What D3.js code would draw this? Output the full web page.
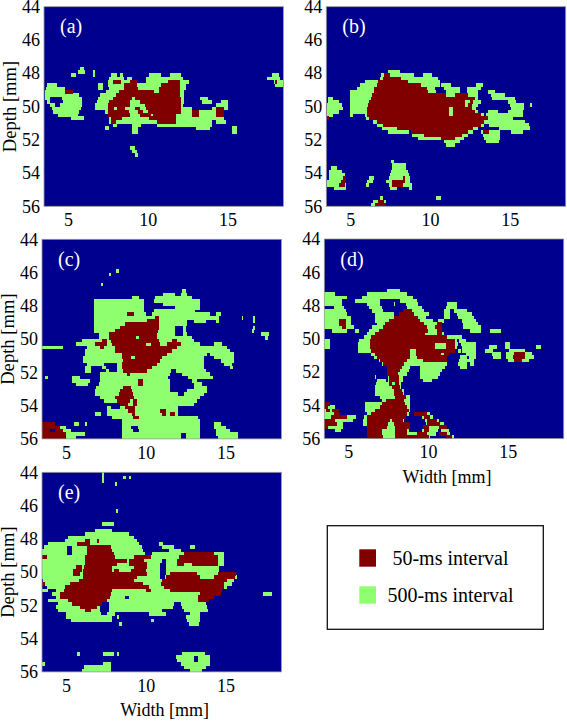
<!DOCTYPE html>
<html>
<head>
<meta charset="utf-8">
<script src="https://d3js.org/d3.v7.min.js"></script>
<style>
  body { margin: 0; background: #fff; }
  text { font-family: "Liberation Serif", serif; fill: #000; }
</style>
</head>
<body>
<script>
// every row is [depth, x0, x1, x0, x1, ...] in mm, one row is rowStep mm tall
var rowStep = 0.2
var widthDomain = [3.5, 18.5]
var depthDomain = [44, 56]
var widthTicks = [5, 10, 15]
var depthTicks = [44, 46, 48, 50, 52, 54, 56]
var legendLabels = ['50-ms interval', '500-ms interval']

var a500 = [
  [47.6,5.75,6.0],[47.8,5.6,6.1,6.55,6.7],
  [48.0,5.2,5.5,6.55,6.7,7.7,8.1,8.25,8.45,10.1,10.8,11.4,12.1,17.8,18.2],
  [48.2,7.6,8.5,8.7,9.0,9.9,12.2,17.5,18.3],
  [48.4,7.5,8.9,9.9,12.6,17.9,18.5],
  [48.6,3.7,4.3,6.9,7.2,7.5,12.4,18.0,18.5],
  [48.8,3.6,4.8,6.9,7.2,7.6,12.4],
  [49.0,3.55,5.3,7.4,12.3],
  [49.2,3.55,5.7,7.0,12.3],
  [49.4,3.55,3.9,4.6,5.85,6.9,12.3,13.3,13.8],
  [49.6,3.7,3.85,4.7,5.85,6.8,12.3,13.4,14.0,14.6,15.0],
  [49.8,3.9,4.2,4.5,5.85,6.7,12.2,14.3,15.0],
  [50.0,4.0,5.8,6.7,12.8,14.0,15.0],
  [50.2,4.05,5.7,7.3,13.1,13.2,14.8],
  [50.4,4.4,5.6,7.6,14.8],
  [50.6,5.2,6.0,7.6,14.8],
  [50.8,7.6,14.0,14.3,14.9],
  [51.0,7.8,8.05,9.0,9.6,10.6,14.0],
  [51.2,7.3,7.6,9.0,9.4,13.0,13.9,15.3,15.6],
  [51.4,9.0,9.4,15.3,15.6],
  [52.4,8.9,9.2],[52.6,9.0,9.3],[52.8,9.2,9.4]
]
var a50 = [
  [49.0,4.8,5.3],[48.4,7.85,8.3,8.9,9.3,11.3,12.0,18.0,18.1],
  [48.6,8.5,9.3,10.8,12.0],[48.8,8.5,9.4,10.7,12.0],
  [49.0,8.2,10.4,10.7,12.0],[49.2,8.0,12.0],
  [49.4,7.8,9.0,9.2,12.1],[49.6,7.6,8.9,9.5,12.1],
  [49.8,7.5,8.9,9.8,12.1],[50.0,7.5,7.9,8.1,8.6,9.2,9.5,9.9,12.1,14.3,14.8],
  [50.2,7.5,8.8,9.4,9.7,10.0,12.1,12.8,13.2,14.3,14.8],
  [50.4,7.5,8.9,9.5,10.2,10.3,11.8,12.8,13.2,14.3,14.8],
  [50.6,7.7,8.4,10.1,11.8],[50.8,7.7,8.0,10.6,11.8]
]

var b500 = [
  [47.8,7.36,8.1],
  [48.0,6.95,9.0,9.55,10.1],[48.2,6.85,10.5],[48.4,5.9,10.6],
  [48.6,5.6,10.6,10.7,11.3,12.9,13.3],
  [48.8,5.4,10.3,10.9,11.9,12.3,13.2],
  [49.0,5.0,10.4,11.0,11.9,12.3,13.0,13.64,14.06],
  [49.2,4.96,13.0,13.8,14.7],
  [49.4,3.6,3.9,4.96,13.0,13.9,15.3],
  [49.6,3.6,4.3,4.96,13.2,14.9,15.4],
  [49.8,3.55,4.5,4.96,13.0,15.0,15.9,16.25,16.4],
  [50.0,3.55,4.55,4.96,12.9,15.1,15.9],
  [50.2,3.55,4.3,4.96,13.0,13.64,14.27,14.9,15.84],
  [50.4,3.55,3.9,5.0,5.2,5.9,13.4,13.5,15.84],
  [50.6,3.55,3.7,6.0,15.2],
  [50.8,6.4,15.95],
  [51.0,6.7,13.4,13.7,16.2],
  [51.2,7.0,13.0,14.3,16.26],
  [51.4,7.36,8.7,8.9,12.7,13.2,14.4,15.1,15.84],
  [51.6,8.9,12.4,13.3,14.4],[51.8,9.25,12.1,13.4,14.4],
  [52.0,10.9,11.9,13.5,14.3],[52.2,11.0,11.55],
  [53.2,7.55,7.75],[53.4,7.6,8.5],
  [53.6,3.8,4.2,7.6,8.5],[53.8,3.7,4.5,7.55,8.6],
  [54.0,3.7,4.7,7.5,8.7],[54.2,3.7,4.7,6.2,6.5,7.4,8.75],
  [54.4,3.55,4.7,6.05,6.4,7.25,8.75],[54.6,3.55,4.75,6.0,6.2,7.4,8.85],
  [54.8,4.0,4.75,7.5,7.9,8.7,8.85],
  [55.4,6.85,7.05,10.4,10.7],[55.6,6.4,7.25],[55.8,6.3,7.25]
]
var b50 = [
  [48.0,7.1,7.5],[48.2,7.05,8.2],[48.4,6.75,8.6],[48.6,6.65,9.45],
  [48.8,6.5,9.8],[49.0,6.5,9.9],[49.2,6.35,11.0,11.55,12.4],
  [49.4,6.3,12.8],[49.6,6.2,12.2,12.5,12.7],[49.8,6.1,12.2,12.4,12.6],
  [50.0,6.05,11.2,11.45,12.6],[50.2,6.05,11.2,11.45,12.8],
  [50.4,6.05,11.2,11.45,13.2],[50.6,6.2,13.65],[50.8,6.65,13.4],
  [51.0,7.05,13.2],[51.2,7.9,12.7],[51.4,8.8,12.4,13.3,13.7],
  [51.6,9.65,12.0],[51.8,10.7,11.55],[50.6,3.55,3.7],
  [54.2,4.55,4.75,8.3,8.45],[54.4,4.4,4.75,7.6,8.45],[54.6,4.3,4.7,7.6,8.3],
  [55.6,6.75,7.1],[55.8,6.55,7.25]
]

var c500 = [
  [45.8,8.15,8.3],[46.0,7.7,7.85],[46.6,7.2,7.35],
  [47.0,12.3,12.5],[47.2,11.1,11.85,12.2,12.6],
  [47.4,9.15,9.55,10.6,12.9],[47.6,6.75,9.9,10.5,13.4],
  [47.8,6.75,9.9,11.1,13.4],[48.0,6.75,9.9,11.85,13.4],
  [48.2,6.75,9.9,10.5,13.1],[48.4,6.75,10.0,10.4,14.0,14.4,14.7],
  [48.6,6.75,14.6,16.0,16.1,16.75,16.85],[48.8,6.75,12.6,13.0,13.8,14.4,14.6,16.75,16.85],
  [49.0,6.75,12.6],[49.2,6.75,11.85,12.35,12.5,16.7,16.85],[49.4,6.75,11.85,12.35,12.5,16.65,16.8],
  [49.6,7.05,11.85,12.35,12.6,17.25,17.75],[49.8,7.05,12.9,17.5,17.65],
  [50.0,6.0,13.0],[50.2,5.6,13.4,14.3,14.8],
  [50.4,3.5,4.8,6.3,15.1],[50.6,6.2,15.3],[50.8,6.2,13.85,14.0,15.5],
  [51.0,6.1,13.65,14.3,15.5],[51.2,6.1,13.65,14.7,15.5],
  [51.4,6.3,7.4,8.2,13.65,14.9,15.4],
  [51.6,6.2,6.6,7.25,7.5,8.2,13.65,15.3,15.45],
  [51.8,6.2,6.6,7.5,7.7,8.2,11.6,11.9,13.8],
  [52.0,7.15,11.55,12.3,14.05],[52.2,3.7,3.85,5.4,5.9,7.15,11.4,12.65,14.2],
  [52.4,5.4,6.5,7.15,11.55,12.9,13.2],[52.6,5.6,6.4,7.05,11.55,13.0,13.5],
  [52.8,6.9,11.55,13.0,13.85],[53.0,6.85,11.55,12.6,13.85],
  [53.2,6.85,12.0,12.4,13.65],[53.4,7.15,13.4],[53.6,7.4,13.2],
  [53.8,8.4,13.0],[54.0,7.6,7.8,8.4,12.0],[54.2,7.55,12.0],
  [54.4,6.85,7.2,7.55,12.0],[54.6,7.9,13.3],[54.8,8.5,13.4],
  [55.0,5.5,5.8,6.2,6.35,8.5,13.4,14.25,14.7],
  [55.2,4.6,5.0,8.5,9.1,9.5,13.4,14.25,15.0],
  [55.4,4.6,5.3,8.5,9.2,9.6,13.4,14.4,15.3],
  [55.6,5.0,6.2,8.5,12.2,12.5,13.4,14.4,15.8],
  [55.8,5.0,5.6,8.5,12.2,12.5,13.4,14.5,15.8]
]
var c50 = [
  [48.4,8.85,9.25],[48.6,10.55,10.8],[48.8,10.1,10.8],[49.0,8.7,10.8],
  [49.2,8.4,10.8],[49.4,8.1,10.75],[49.6,7.7,10.7],[49.8,7.7,9.4,9.6,10.7],
  [50.0,7.25,7.55,7.8,10.8,11.65,11.95],[50.2,6.85,7.55,7.9,10.0,10.3,10.9,11.35,12.2],
  [50.4,7.15,7.4,8.1,11.95],[50.6,8.1,11.65],[50.8,8.5,11.35],[51.0,8.5,9.1,9.3,11.0],
  [51.2,8.6,10.9],[51.4,8.5,10.7],[51.6,8.5,10.4],[51.8,8.6,10.1],
  [52.0,8.85,9.0],[52.4,9.5,9.85],[52.6,9.5,9.85],
  [52.8,8.6,9.05],[53.0,8.4,9.15],[53.2,8.3,9.2],[53.4,8.1,9.25],
  [53.6,8.2,9.0,9.2,9.45],[53.8,8.4,8.9,9.2,9.45],[54.0,8.7,9.35],[54.2,8.9,9.35,10.9,11.3],
  [54.4,9.15,9.35,11.0,11.3,11.5,11.85],[54.6,9.2,9.55],
  [55.0,3.5,4.3],[55.2,3.5,4.6],[55.4,3.5,4.0,4.3,4.8],[55.6,3.5,5.0],[55.8,3.5,4.95]
]

var d500 = [
  [47.0,7.45,8.25],[47.2,3.5,4.2,6.15,8.7],[47.4,3.5,4.9,5.85,9.05],
  [47.6,3.5,4.6,5.45,7.0,8.25,9.3],[47.8,3.5,4.6,6.15,7.0,7.85,7.95,8.6,9.4,11.2,11.8],
  [48.0,4.1,4.75,6.3,7.1,8.7,9.6,11.1,11.8],
  [48.2,3.5,4.85,6.5,7.2,8.4,9.75,11.0,11.4,11.6,12.45],
  [48.4,3.5,4.9,6.7,7.85,8.15,10.05,11.0,11.4,11.8,12.75],
  [48.6,3.5,5.2,6.7,9.9,11.0,11.4,11.9,12.85],
  [48.8,3.5,5.2,6.7,10.3,10.6,11.0,12.1,13.0],
  [49.0,3.5,5.2,6.8,10.9,12.2,13.1],
  [49.2,3.5,5.35,6.5,10.9,12.2,13.3],
  [49.4,4.0,4.9,5.45,5.7,6.3,10.9,12.6,13.3,13.9,14.55],
  [49.6,6.2,11.0],[49.8,6.0,11.8,11.8,12.15],
  [50.0,3.5,3.85,5.7,11.8,11.95,12.4],[50.2,3.5,3.85,5.6,11.9,12.05,13.0,14.85,15.15],
  [50.4,3.5,3.85,5.6,11.8,12.1,13.0,13.85,14.3,14.85,15.15,16.75,17.05],
  [50.6,5.6,11.7,11.85,12.05,12.15,13.0,13.6,14.1,15.05,16.1],
  [50.8,6.4,11.3,12.4,13.0,14.0,14.55,14.9,16.5],
  [51.0,6.6,11.2,12.0,12.45,12.55,13.0,14.1,14.55,14.9,16.65],
  [51.2,6.9,11.2,11.95,12.85,15.0,16.3],
  [51.4,7.1,11.2,11.9,12.45,12.65,12.85],
  [51.6,7.4,8.9,9.5,11.05,12.0,12.45],
  [51.8,7.45,8.8,9.5,10.85],[52.0,7.45,8.7,9.5,10.75],
  [52.2,6.65,6.75,7.5,8.45,9.5,10.6],[52.4,6.8,7.35,7.5,8.45,9.7,10.25],
  [52.6,6.75,8.3],[52.8,6.7,8.3],[53.0,6.7,8.5],[53.2,6.7,8.5],
  [53.4,7.0,8.85],[53.6,7.1,8.85],[53.8,3.5,3.85,6.05,8.85],
  [54.0,3.5,4.2,6.05,8.9],[54.2,3.5,4.4,6.05,8.9],[54.4,3.5,4.5,6.15,8.8,9.1,10.1],
  [54.6,3.5,5.5,6.0,8.65,9.6,10.3],[54.8,3.5,5.3,5.9,8.5,9.8,10.7],
  [55.0,3.5,4.7,5.9,8.8,9.9,11.0],[55.2,3.5,4.7,6.2,8.8,9.7,11.2],
  [55.4,4.2,4.55,6.2,8.8,9.6,10.6,10.8,11.3],
  [55.6,6.2,9.3,9.4,10.5,10.9,11.4],[55.8,6.2,10.1,11.2,11.6]
]
var d50 = [
  [48.2,8.45,9.0],[48.4,8.15,9.1],[48.6,7.85,9.4],[48.8,7.55,9.5,4.4,4.85],
  [49.0,7.3,9.75,10.55,10.9,4.4,4.85],[49.2,7.2,9.95,10.45,10.9,4.6,4.85],
  [49.4,6.9,10.0,10.55,10.9],[49.6,6.65,9.8,10.55,10.9],[49.8,6.4,11.2],
  [50.0,6.35,11.7],[50.2,6.35,10.45,11.15,11.7],[50.4,6.35,10.45,11.15,11.7],
  [50.6,6.4,8.9,9.25,11.7],[50.8,6.7,8.9,9.25,10.8,11.0,11.3,15.4,16.1],
  [51.0,6.8,8.9,9.3,11.2,15.3,16.1],[51.2,7.0,8.7,9.7,11.2,15.4,15.9],
  [51.4,7.2,8.5],[51.6,7.45,8.35],[51.8,7.45,8.25],[52.0,7.45,8.1],
  [52.2,7.55,8.15],[52.4,7.55,8.15],[52.6,7.55,7.75,7.9,8.15],[52.8,7.75,8.25],
  [53.0,7.85,8.35],[53.2,7.85,8.45],[53.4,7.95,8.6],[53.6,7.35,8.5],
  [53.8,3.5,3.85,7.1,8.55],[54.0,3.5,3.75,7.0,8.7],[54.2,3.6,3.85,4.0,4.4,6.7,8.8],
  [54.4,4.1,4.5,6.4,8.7,9.1,9.95],[54.6,3.9,4.9,6.2,8.6,9.75,10.15],
  [54.8,3.5,4.2,6.2,7.6,7.75,8.4,9.95,10.55],[55.0,3.5,4.3,6.2,7.5,7.85,8.85,9.95,10.75],
  [55.2,3.5,3.75,6.2,7.4,7.95,8.85,9.7,10.05,10.7,11.2],
  [55.4,6.2,7.1,7.9,8.7,9.75,10.05],[55.6,6.2,7.1,7.9,8.7,9.3,9.95,10.7,11.2],
  [55.8,6.2,7.2,7.9,9.5,9.5,10.05,11.1,11.5]
]

var e500 = [
  [44.0,7.25,7.4],[44.2,7.25,7.4,8.6,8.75,8.95,9.1],[44.4,7.25,7.4],[44.6,8.1,8.2],[46.2,8.15,8.25],
  [47.0,7.25,8.0],[47.4,6.85,7.9],[47.6,6.2,8.95],[47.8,5.15,9.25],[48.0,4.95,9.45],
  [48.2,3.9,9.55,10.8,11.1],[48.4,3.6,5.05,5.4,9.75,11.0,11.8,12.8,13.1],
  [48.6,3.5,5.05,5.4,9.85,11.45,12.2],[48.8,3.5,5.05,5.4,9.95,10.4,14.9],
  [49.0,3.5,14.9],[49.2,3.5,11.0,11.3,14.9],[49.4,3.5,10.9,11.3,14.9],
  [49.6,3.5,10.9,11.3,14.6],[49.8,3.5,10.9,11.3,14.6],[50.0,3.5,10.9,11.3,15.6],
  [50.2,3.5,10.9,11.2,15.7],[50.4,3.55,15.5],[50.6,3.65,15.4],[50.8,3.8,15.1],
  [51.0,3.5,3.9,4.4,14.7],[51.2,4.1,14.5],[51.4,4.4,8.7,8.95,14.05],
  [51.6,3.9,13.8],[51.8,4.5,7.15,7.7,11.8,12.2,13.8],
  [52.0,4.4,7.15,7.7,11.7,12.3,13.85],[52.2,4.5,7.15,7.7,11.0,12.4,13.9],
  [52.4,5.0,7.2,7.6,8.1,10.2,11.3,12.8,13.4],[52.6,5.0,7.9,8.2,8.3,12.5,13.4],
  [52.8,5.3,7.9,10.3,10.5,12.6,13.4],[53.0,8.3,8.5,12.7,13.35],
  [54.8,5.7,5.9,7.35,8.0,8.2,8.3,12.3,13.7],
  [55.0,11.9,13.0,13.25,14.0],[55.2,11.95,13.0,13.25,14.05],[55.4,3.5,3.7,7.3,7.8,12.2,14.05],
  [55.6,6.15,7.85,12.4,13.8],[55.8,6.0,7.85,12.8,13.5],
  [51.2,17.35,17.9]
]
var e50 = [
  [48.0,6.2,6.5,6.95,7.1],[48.2,5.7,6.5],[48.4,6.3,7.8],[48.6,6.3,7.9],
  [48.8,6.3,8.0,12.4,14.25],[49.0,3.5,3.8,6.2,8.1,9.25,10.3,12.1,14.5],
  [49.2,6.2,8.8,8.95,9.9,11.95,14.5],[49.4,6.2,8.2,8.95,10.1,11.95,12.4,12.9,14.5],
  [49.6,5.6,6.0,6.15,7.9,9.25,10.1],[49.8,5.45,6.0,6.1,7.9,8.0,8.3,9.05,10.0],
  [50.0,5.45,5.9,6.1,10.1,11.55,13.2,14.5,15.65],[50.2,6.1,9.45,11.3,13.4,14.3,15.6],
  [50.4,5.8,9.25,11.05,15.1],[50.6,3.5,3.7,5.25,9.85,10.95,14.9],
  [50.8,4.95,10.2,11.15,14.9],[51.0,4.85,7.9,10.0,10.3,11.55,14.8],
  [51.2,4.65,7.85,13.4,14.7],[51.4,4.65,7.75,13.3,14.25],[51.6,5.15,7.55,13.3,13.95],
  [51.8,5.4,7.25],[52.0,5.9,6.95],[52.2,6.2,6.6]
]

var panels = [
  {name: '(a)', green: a500, red: a50, left: 44, top: 6.7, ylabel: true, xlabel: false},
  {name: '(b)', green: b500, red: b50, left: 326.3, top: 6.7, ylabel: false, xlabel: false},
  {name: '(c)', green: c500, red: c50, left: 42, top: 239.3, ylabel: true, xlabel: false},
  {name: '(d)', green: d500, red: d50, left: 324.3, top: 239, ylabel: false, xlabel: true},
  {name: '(e)', green: e500, red: e50, left: 42, top: 472.3, ylabel: true, xlabel: true}
]

var W = 567, H = 721
var pw = 239.4, ph = 199.6
var blue = '#00008f', green = '#8fff70', red = '#800000'

var svg = d3.select('body').append('svg')
  .attr('width', W).attr('height', H)

var x = d3.scaleLinear().domain(widthDomain).range([0, pw])
var y = d3.scaleLinear().domain(depthDomain).range([0, ph])

// turn [depth, x0, x1, ...] rows into single runs
function runs(rows) {
  var out = []
  rows.forEach(function(r) {
    for (var i = 1; i < r.length; i += 2) {
      out.push({depth: r[0], x0: r[i], x1: r[i + 1]})
    }
  })
  return out
}

panels.forEach(function(p) {
  var g = svg.append('g').attr('transform', 'translate(' + p.left + ',' + p.top + ')')

  g.append('rect')
    .attr('width', pw).attr('height', ph)
    .attr('fill', blue)

  ;[[p.green, green], [p.red, red]].forEach(function(layer) {
    g.append('g')
      .attr('shape-rendering', 'crispEdges')
      .selectAll('rect')
      .data(runs(layer[0]))
      .enter().append('rect')
      .attr('x', function(d) { return x(d.x0) })
      .attr('y', function(d) { return y(d.depth) })
      .attr('width', function(d) { return x(d.x1) - x(d.x0) })
      // little overlap so neighbouring rows do not show a seam
      .attr('height', function(d) { return Math.min(y(d.depth + rowStep) + 0.4, ph) - y(d.depth) })
      .attr('fill', layer[1])
  })

  g.append('rect')
    .attr('width', pw).attr('height', ph)
    .attr('fill', 'none').attr('stroke', '#999').attr('stroke-width', 0.8)

  var ax = g.append('g').attr('transform', 'translate(0,' + ph + ')')
    .call(d3.axisBottom(x).tickValues(widthTicks).tickSize(0).tickPadding(7))
  var ay = g.append('g')
    .call(d3.axisLeft(y).tickValues(depthTicks).tickSize(0).tickPadding(4))
  ax.select('.domain').remove()
  ay.select('.domain').remove()
  ax.selectAll('text').style('font-size', '18px').style('font-family', '"Liberation Serif", serif')
  ay.selectAll('text').style('font-size', '18px').style('font-family', '"Liberation Serif", serif')

  g.append('text')
    .attr('x', 16).attr('y', 26.5)
    .style('fill', '#fff').style('font-size', '20px')
    .text(p.name)

  if (p.ylabel) {
    g.append('text')
      .attr('transform', 'translate(-28,' + ph / 2 + ') rotate(-90)')
      .attr('text-anchor', 'middle')
      .style('font-size', '18.6px')
      .text('Depth [mm]')
  }
  if (p.xlabel) {
    g.append('text')
      .attr('x', pw / 2 + 3).attr('y', ph + 44.5)
      .attr('text-anchor', 'middle')
      .style('font-size', '18px')
      .text('Width [mm]')
  }
})

// legend
var legend = svg.append('g')
legend.append('rect')
  .attr('x', 327.3).attr('y', 525.7).attr('width', 216).attr('height', 103.6)
  .attr('fill', '#fff').attr('stroke', '#111').attr('stroke-width', 1.3)

var legendY = d3.scalePoint().domain(legendLabels).range([558, 595])
var legendColor = d3.scaleOrdinal().domain(legendLabels).range([red, green])

legend.selectAll('rect.swatch')
  .data(legendLabels)
  .enter().append('rect')
  .attr('class', 'swatch')
  .attr('x', 359.3).attr('y', function(d) { return legendY(d) - 8.7 })
  .attr('width', 16.7).attr('height', 17.4)
  .attr('fill', function(d) { return legendColor(d) })

legend.selectAll('text')
  .data(legendLabels)
  .enter().append('text')
  .attr('x', 450.5).attr('y', function(d) { return legendY(d) + 7 })
  .attr('text-anchor', 'middle')
  .style('font-size', '20px')
  .text(function(d) { return d })
</script>
</body>
</html>
